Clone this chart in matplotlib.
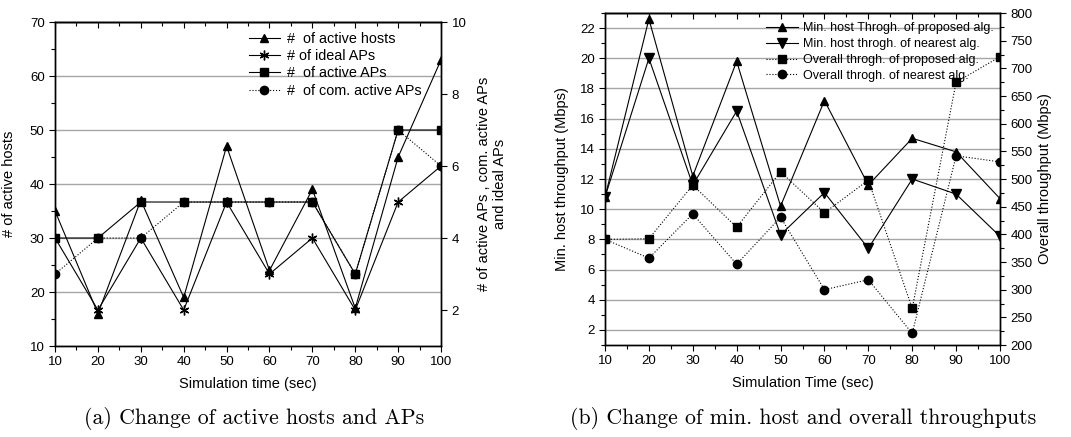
import matplotlib
matplotlib.use("Agg")

import matplotlib.pyplot as plt
from matplotlib.ticker import MultipleLocator

plt.rcParams["font.family"] = ["Liberation Sans", "DejaVu Sans"]
plt.rcParams["font.size"] = 9.5

# ---- data: (a) hosts and APs ----
time_a = [10, 20, 30, 40, 50, 60, 70, 80, 90, 100]
active_hosts = [35, 16, 37, 19, 47, 24, 39, 17, 45, 63]
ideal_aps = [4, 2, 4, 2, 5, 3, 4, 2, 5, 6]
active_aps = [4, 4, 5, 5, 5, 5, 5, 3, 7, 7]
com_active_aps = [3, 4, 4, 5, 5, 5, 5, 3, 7, 6]

# ---- data: (b) throughputs ----
time_b = [10, 20, 30, 40, 50, 60, 70, 80, 90, 100]
min_prop = [10.8, 22.6, 12.2, 19.8, 10.2, 17.2, 11.6, 14.7, 13.8, 10.7]
min_near = [10.8, 20.0, 11.6, 16.5, 8.3, 11.1, 7.4, 12.0, 11.0, 8.2]
overall_prop = [391, 392, 489, 413, 513, 439, 498, 266, 675, 721]
overall_near = [391, 357, 437, 346, 431, 300, 318, 221, 542, 531]

LW = 0.8
MS = 6
GRID = "#a6a6a6"
STAR = (6, 2, 0)  # six-armed asterisk


def style_axes(ax, twin):
    ax.set_xlim(10, 100)
    ax.xaxis.set_major_locator(MultipleLocator(10))
    ax.xaxis.set_minor_locator(MultipleLocator(5))
    ax.tick_params(axis="x", which="both", direction="out", top=False)
    ax.tick_params(axis="x", which="major", length=4, width=0.8)
    ax.tick_params(axis="x", which="minor", length=3, width=0.8)
    ax.tick_params(axis="y", which="major", direction="out", length=4, width=0.8)
    ax.tick_params(axis="y", which="minor", direction="out", length=3, width=0.8)
    twin.tick_params(axis="y", which="major", direction="out", length=4, width=0.8)
    twin.tick_params(axis="y", which="minor", direction="out", length=3, width=0.8)
    for sp in list(ax.spines.values()) + list(twin.spines.values()):
        sp.set_linewidth(1.0)
    ax.grid(axis="y", which="major", color=GRID, linewidth=1.0)
    ax.set_axisbelow(True)
    # top axis: ticks pointing inward, no labels
    top = ax.secondary_xaxis("top")
    top.xaxis.set_major_locator(MultipleLocator(10))
    top.xaxis.set_minor_locator(MultipleLocator(5))
    top.tick_params(which="both", direction="in", labeltop=False, width=0.8)
    top.tick_params(which="major", length=4)
    top.tick_params(which="minor", length=3)
    top.spines["top"].set_linewidth(1.0)


fig = plt.figure(figsize=(10.71, 4.37), dpi=100)

# ================= (a) =================
ax1 = fig.add_axes([0.0514, 0.2082, 0.3604, 0.7414])
ax1r = ax1.twinx()

h1, = ax1.plot(time_a, active_hosts, "-^", color="black", lw=LW, ms=MS,
               label="#  of active hosts")
h2, = ax1r.plot(time_a, ideal_aps, "-", marker=STAR, color="black", lw=LW,
                ms=MS + 1, mew=1.0, label="# of ideal APs")
h3, = ax1r.plot(time_a, active_aps, "-s", color="black", lw=LW, ms=MS - 0.5,
                label="#  of active APs")
h4, = ax1r.plot(time_a, com_active_aps, ":o", color="black", lw=LW, ms=MS,
                label="#  of com. active APs")

ax1.set_ylim(10, 70)
ax1.yaxis.set_major_locator(MultipleLocator(10))
ax1.yaxis.set_minor_locator(MultipleLocator(5))
ax1r.set_ylim(1, 10)
ax1r.yaxis.set_major_locator(MultipleLocator(2))
style_axes(ax1, ax1r)

ax1.set_xlabel("Simulation time (sec)", fontsize=10.5, labelpad=6)
ax1.set_ylabel("# of active hosts", fontsize=10.5, labelpad=10)
ax1r.set_ylabel("# of active APs , com. active APs\nand ideal APs",
                fontsize=10.5, labelpad=8, linespacing=1.1)

ax1r.legend(handles=[h1, h2, h3, h4], loc="upper left",
            bbox_to_anchor=(0.475, 1.0), frameon=False, fontsize=10.4,
            handlelength=2.2, handletextpad=0.45, labelspacing=0.22,
            borderaxespad=0.3)

fig.text(0.237, 0.043, "(a) Change of active hosts and APs",
         family="cmr10", fontsize=15.7, ha="center", va="center")

# ================= (b) =================
ax2 = fig.add_axes([0.5649, 0.2105, 0.3688, 0.7597])
ax2r = ax2.twinx()

g1, = ax2.plot(time_b, min_prop, "-^", color="black", lw=LW, ms=MS,
               label="Min. host Throgh. of proposed alg.")
g2, = ax2.plot(time_b, min_near, "-v", color="black", lw=LW, ms=MS + 1,
               label="Min. host throgh. of nearest alg.")
g3, = ax2r.plot(time_b, overall_prop, ":s", color="black", lw=LW, ms=MS - 0.5,
                label="Overall throgh. of proposed alg.")
g4, = ax2r.plot(time_b, overall_near, ":o", color="black", lw=LW, ms=MS,
                label="Overall throgh. of nearest alg.")

ax2.set_ylim(1, 23)
ax2.set_yticks([2, 4, 6, 8, 10, 12, 14, 16, 18, 20, 22])
ax2.yaxis.set_minor_locator(MultipleLocator(1))
ax2r.set_ylim(200, 800)
ax2r.yaxis.set_major_locator(MultipleLocator(50))
ax2r.yaxis.set_minor_locator(MultipleLocator(25))
style_axes(ax2, ax2r)

ax2.set_xlabel("Simulation Time (sec)", fontsize=10.5, labelpad=6)
ax2.set_ylabel("Min. host throughput (Mbps)", fontsize=10.5, labelpad=8)
ax2r.set_ylabel("Overall throughput (Mbps)", fontsize=10.5, labelpad=4)

ax2r.legend(handles=[g1, g2, g3, g4], loc="upper left",
            bbox_to_anchor=(0.385, 1.0), frameon=False, fontsize=9,
            handlelength=2.5, handletextpad=0.4, labelspacing=0.3,
            borderaxespad=0.35)

fig.text(0.75, 0.043, "(b) Change of min. host and overall throughputs",
         family="cmr10", fontsize=15.7, ha="center", va="center")

fig.savefig("out.png", dpi=100)
